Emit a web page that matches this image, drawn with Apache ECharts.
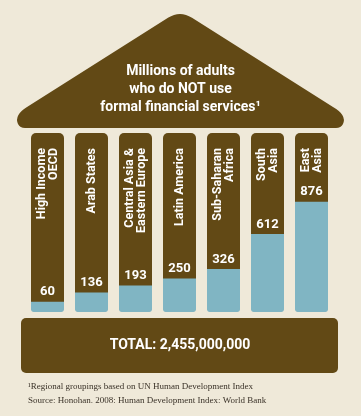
<!DOCTYPE html>
<html>
<head>
<meta charset="utf-8">
<script src="https://cdn.jsdelivr.net/npm/echarts@6/dist/echarts.min.js"></script>
<style>
  html, body { margin: 0; padding: 0; background: #EFE9D9; }
  #chart { width: 361px; height: 416px; }
</style>
</head>
<body>
<div id="chart"></div>
<script>
// ---- data ----
const categories = ['High Income\nOECD', 'Arab States', 'Central Asia &\nEastern Europe', 'Latin America', 'Sub-Saharan\nAfrica', 'South\nAsia', 'East\nAsia'];
const values = [60, 136, 193, 250, 326, 612, 876]; // millions of adults
const titleLines = ['Millions of adults', 'who do NOT use', 'formal financial services\u00B9'];
const totalText = 'TOTAL: 2,455,000,000';
const footnotes = ['\u00B9Regional groupings based on UN Human Development Index', 'Source: Honohan. 2008: Human Development Index: World Bank'];

// ---- styling ----
const BROWN = '#624915';
const BLUE = '#80B5C3';
const CREAM = '#EFE9D9';
const SANS = 'Roboto, "DejaVu Sans Condensed", sans-serif';
const AXIS_MAX = 1461;   // column height in value units
const BASE_OFFSET = 24;  // blue foot below the zero line (visual only)

const roofPath = 'M 168 17.8 Q 180 10.2 192 17.8 L 333 107 Q 347 115 343 124 Q 341 128 336 128 L 25 128 Q 20 128 18 124 Q 14 115 27 107 Z';
const RoofShape = echarts.graphic.extendPath(roofPath, {});
echarts.graphic.registerShape('roof', RoofShape);

const chart = echarts.init(document.getElementById('chart'), null, { renderer: 'canvas' });

chart.setOption({
  backgroundColor: CREAM,
  animation: false,
  grid: { left: 25.5, right: 27.5, top: 133, bottom: 104 },
  xAxis: {
    type: 'category',
    data: categories,
    position: 'top',
    axisLine: { show: false },
    axisTick: { show: false },
    axisLabel: {
      inside: true,
      rotate: 90,
      margin: 15,
      color: '#FFFFFF',
      fontFamily: SANS,
      fontWeight: 'bold',
      fontSize: 12.5,
      lineHeight: 12,
      interval: 0
    },
    z: 10
  },
  yAxis: {
    type: 'value',
    min: 0,
    max: AXIS_MAX,
    show: false,
    splitLine: { show: false }
  },
  series: [
    {
      type: 'bar',
      stack: 'col',
      barWidth: 33,
      data: values.map(() => BASE_OFFSET),
      itemStyle: { color: BLUE, borderRadius: [0, 0, 4, 4] },
      showBackground: true,
      backgroundStyle: { color: BROWN, borderRadius: 5 },
      silent: true
    },
    {
      type: 'bar',
      stack: 'col',
      barWidth: 33,
      data: values,
      itemStyle: { color: BLUE },
      label: {
        show: true,
        position: 'top',
        distance: 3,
        color: '#FFFFFF',
        fontFamily: SANS,
        fontWeight: 'bold',
        fontSize: 13
      }
    }
  ],
  graphic: [
    {
      type: 'roof',
      shape: {},
      style: { fill: BROWN },
      z: 1
    },
    {
      type: 'text',
      x: 180.5,
      y: 89.5,
      style: {
        text: titleLines.join('\n'),
        fill: '#FFFFFF',
        font: 'bold 14px ' + SANS,
        align: 'center',
        verticalAlign: 'middle',
        lineHeight: 18
      },
      z: 2
    },
    {
      type: 'rect',
      shape: { x: 21, y: 318, width: 317, height: 55, r: 5 },
      style: { fill: BROWN },
      z: 1
    },
    {
      type: 'text',
      x: 180,
      y: 345,
      style: {
        text: totalText,
        fill: '#FFFFFF',
        font: 'bold 14px ' + SANS,
        align: 'center',
        verticalAlign: 'middle'
      },
      z: 2
    },
    {
      type: 'text',
      x: 28,
      y: 393.5,
      style: {
        text: footnotes.join('\n'),
        fill: '#3A3228',
        font: '9px "Liberation Serif", "DejaVu Serif", serif',
        align: 'left',
        verticalAlign: 'middle',
        lineHeight: 13.5
      },
      z: 2
    }
  ]
});
</script>
</body>
</html>
